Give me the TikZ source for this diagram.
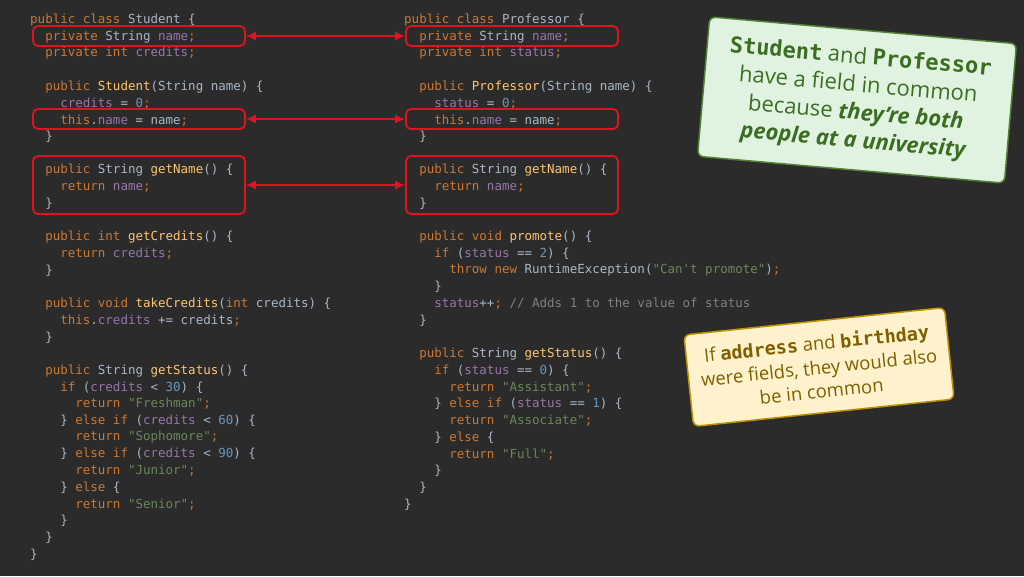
\documentclass[tikz,border=0pt]{standalone}
\usepackage{fontspec}
\setmonofont{DejaVu Sans Mono}
\setsansfont{Open Sans}
\usetikzlibrary{arrows.meta}
\definecolor{bg}{HTML}{2B2B2B}
\definecolor{plain}{HTML}{A9B7C6}
\definecolor{kwc}{HTML}{CC7832}
\definecolor{fnc}{HTML}{FFC66D}
\definecolor{fdc}{HTML}{9876AA}
\definecolor{nuc}{HTML}{6897BB}
\definecolor{stc}{HTML}{6A8759}
\definecolor{cmc}{HTML}{808080}
\definecolor{hlred}{HTML}{E0141E}
\newcommand{\kw}[1]{\textcolor{kwc}{#1}}
\newcommand{\fn}[1]{\textcolor{fnc}{#1}}
\newcommand{\fd}[1]{\textcolor{fdc}{#1}}
\newcommand{\num}[1]{\textcolor{nuc}{#1}}
\newcommand{\str}[1]{\textcolor{stc}{#1}}
\newcommand{\cm}[1]{\textcolor{cmc}{#1}}
\newcommand{\ind}[1]{\hspace*{#1\dimexpr 2\fontcharwd\font`a\relax}}
\tikzset{
  code/.style={anchor=west, inner sep=0pt, text=plain, yshift=-2pt,
    font=\ttfamily\fontsize{12.5}{14}\selectfont},
  hl/.style={draw=hlred, line width=1.8pt, rounded corners=5pt,
    minimum width=212pt, inner sep=0pt},
  link/.style={hlred, line width=1.6pt, {Latex[length=10pt,width=9pt]}-{Latex[length=10pt,width=9pt]}},
}
\begin{document}
\begin{tikzpicture}[x=1pt, y=-1pt]
  \fill[bg] (0,0) rectangle (1024,576);
  \useasboundingbox (0,0) rectangle (1024,576);
  % Student
  \node[code] (s0)  at (30,18)    {\kw{public class} Student \{};
  \node[code] (s1)  at (30,34.7)  {\ind1\kw{private} String \fd{name}\kw{;}};
  \node[code] (s2)  at (30,51.4)  {\ind1\kw{private int} \fd{credits}\kw{;}};
  \node[code] (s4)  at (30,84.8)  {\ind1\kw{public} \fn{Student}(String name) \{};
  \node[code] (s5)  at (30,101.5) {\ind2\fd{credits} = \num{0}\kw{;}};
  \node[code] (s6)  at (30,118.2) {\ind2\kw{this}.\fd{name} = name\kw{;}};
  \node[code] (s7)  at (30,134.9) {\ind1\}};
  \node[code] (s9)  at (30,168.3) {\ind1\kw{public} String \fn{getName}() \{};
  \node[code] (s10) at (30,185)   {\ind2\kw{return} \fd{name}\kw{;}};
  \node[code] (s11) at (30,201.7) {\ind1\}};
  \node[code] (s13) at (30,235.1) {\ind1\kw{public int} \fn{getCredits}() \{};
  \node[code] (s14) at (30,251.8) {\ind2\kw{return} \fd{credits}\kw{;}};
  \node[code] (s15) at (30,268.5) {\ind1\}};
  \node[code] (s17) at (30,301.9) {\ind1\kw{public void} \fn{takeCredits}(\kw{int} credits) \{};
  \node[code] (s18) at (30,318.6) {\ind2\kw{this}.\fd{credits} += credits\kw{;}};
  \node[code] (s19) at (30,335.3) {\ind1\}};
  \node[code] (s21) at (30,368.7) {\ind1\kw{public} String \fn{getStatus}() \{};
  \node[code] (s22) at (30,385.4) {\ind2\kw{if} (\fd{credits} < \num{30}) \{};
  \node[code] (s23) at (30,402.1) {\ind3\kw{return} \str{"Freshman"}\kw{;}};
  \node[code] (s24) at (30,418.8) {\ind2\} \kw{else if} (\fd{credits} < \num{60}) \{};
  \node[code] (s25) at (30,435.5) {\ind3\kw{return} \str{"Sophomore"}\kw{;}};
  \node[code] (s26) at (30,452.2) {\ind2\} \kw{else if} (\fd{credits} < \num{90}) \{};
  \node[code] (s27) at (30,468.9) {\ind3\kw{return} \str{"Junior"}\kw{;}};
  \node[code] (s28) at (30,485.6) {\ind2\} \kw{else} \{};
  \node[code] (s29) at (30,502.3) {\ind3\kw{return} \str{"Senior"}\kw{;}};
  \node[code] (s30) at (30,519)   {\ind2\}};
  \node[code] (s31) at (30,535.7) {\ind1\}};
  \node[code] (s32) at (30,552.4) {\}};
  % Professor
  \node[code] (p0)  at (404,18)    {\kw{public class} Professor \{};
  \node[code] (p1)  at (404,34.7)  {\ind1\kw{private} String \fd{name}\kw{;}};
  \node[code] (p2)  at (404,51.4)  {\ind1\kw{private int} \fd{status}\kw{;}};
  \node[code] (p4)  at (404,84.8)  {\ind1\kw{public} \fn{Professor}(String name) \{};
  \node[code] (p5)  at (404,101.5) {\ind2\fd{status} = \num{0}\kw{;}};
  \node[code] (p6)  at (404,118.2) {\ind2\kw{this}.\fd{name} = name\kw{;}};
  \node[code] (p7)  at (404,134.9) {\ind1\}};
  \node[code] (p9)  at (404,168.3) {\ind1\kw{public} String \fn{getName}() \{};
  \node[code] (p10) at (404,185)   {\ind2\kw{return} \fd{name}\kw{;}};
  \node[code] (p11) at (404,201.7) {\ind1\}};
  \node[code] (p13) at (404,235.1) {\ind1\kw{public void} \fn{promote}() \{};
  \node[code] (p14) at (404,251.8) {\ind2\kw{if} (\fd{status} == \num{2}) \{};
  \node[code] (p15) at (404,268.5) {\ind3\kw{throw new} RuntimeException(\str{"Can't promote"})\kw{;}};
  \node[code] (p16) at (404,285.2) {\ind2\}};
  \node[code] (p17) at (404,301.9) {\ind2\fd{status}++\kw{;} \cm{// Adds 1 to the value of status}};
  \node[code] (p18) at (404,318.6) {\ind1\}};
  \node[code] (p20) at (404,352)   {\ind1\kw{public} String \fn{getStatus}() \{};
  \node[code] (p21) at (404,368.7) {\ind2\kw{if} (\fd{status} == \num{0}) \{};
  \node[code] (p22) at (404,385.4) {\ind3\kw{return} \str{"Assistant"}\kw{;}};
  \node[code] (p23) at (404,402.1) {\ind2\} \kw{else if} (\fd{status} == \num{1}) \{};
  \node[code] (p24) at (404,418.8) {\ind3\kw{return} \str{"Associate"}\kw{;}};
  \node[code] (p25) at (404,435.5) {\ind2\} \kw{else} \{};
  \node[code] (p26) at (404,452.2) {\ind3\kw{return} \str{"Full"}\kw{;}};
  \node[code] (p27) at (404,468.9) {\ind2\}};
  \node[code] (p28) at (404,485.6) {\ind1\}};
  \node[code] (p29) at (404,502.3) {\}};
  % highlights
  \node[hl, minimum height=20pt] (sbox1) at (139,36)  {};
  \node[hl, minimum height=20pt] (sbox2) at (139,119) {};
  \node[hl, minimum height=58pt] (sbox3) at (139,185) {};
  \node[hl, minimum height=20pt] (pbox1) at (512,36)  {};
  \node[hl, minimum height=20pt] (pbox2) at (512,119) {};
  \node[hl, minimum height=58pt] (pbox3) at (512,185) {};
  \draw[link] (sbox1) -- (pbox1);
  \draw[link] (sbox2) -- (pbox2);
  \draw[link] (sbox3) -- (pbox3);
  % notes
  \node[rotate=-5, fill=green!60!black!12!white, draw={rgb,255:red,84;green,130;blue,53},
    line width=1.5pt, rounded corners=6pt, minimum width=308pt, minimum height=140pt,
    align=center, text={rgb,255:red,59;green,110;blue,34},
    font=\sffamily\fontsize{22}{28}\selectfont] (fieldnote) at (857,100)
    {{\ttfamily\bfseries Student} and {\ttfamily\bfseries Professor}\\
     have a field in common\\
     because \textbf{\itshape they’re both}\\
     \textbf{\itshape people at a university}};
  \node[rotate=6, fill={rgb,255:red,255;green,242;blue,204}, draw={rgb,255:red,191;green,144;blue,0},
    line width=1.5pt, rounded corners=6pt, minimum width=262pt, minimum height=92pt,
    align=center, text={rgb,255:red,127;green,96;blue,0},
    font=\sffamily\fontsize{18.5}{24}\selectfont] (addrnote) at (819,367)
    {If {\ttfamily\bfseries address} and {\ttfamily\bfseries birthday}\\
     were fields, they would also\\
     be in common};
\end{tikzpicture}
\end{document}
